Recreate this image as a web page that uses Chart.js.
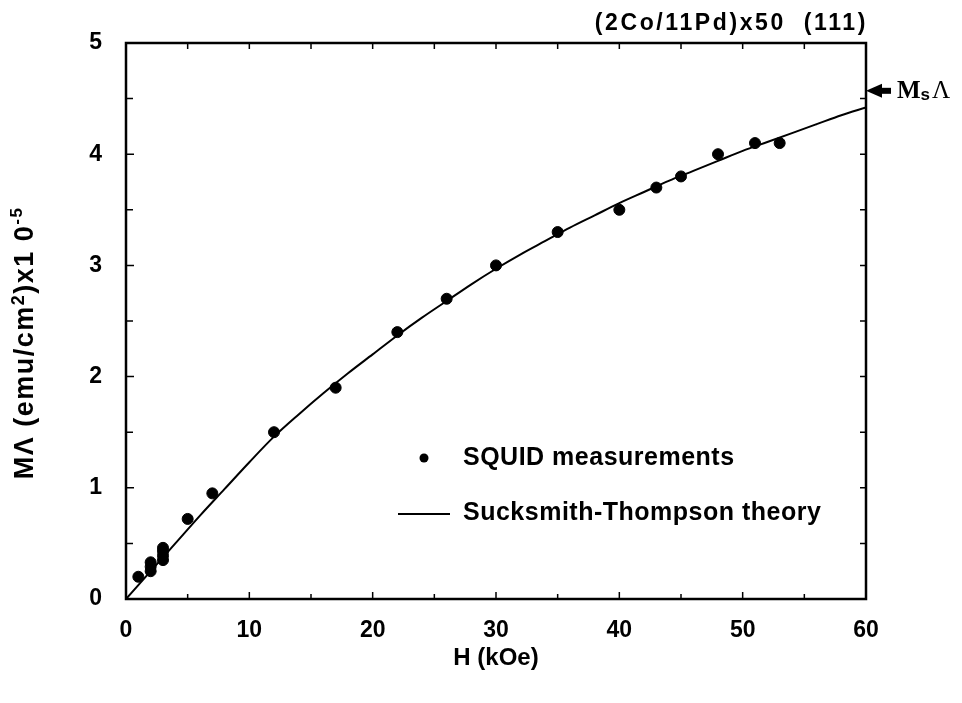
<!DOCTYPE html>
<html><head><meta charset="utf-8">
<script src="https://cdn.jsdelivr.net/npm/chart.js@4"></script>
<style>html,body{margin:0;padding:0;background:#fff}#wrap{width:962px;height:703px}</style>
</head><body><div id="wrap"><canvas id="c" width="962" height="703"></canvas></div>
<script>
const squidH = [1, 2, 2, 2, 3, 3, 3, 3, 5, 7, 12, 17, 22, 26, 30, 35, 40, 43, 45, 48, 51, 53];
const squidM = [0.20, 0.25, 0.29, 0.33, 0.35, 0.39, 0.43, 0.46, 0.72, 0.95, 1.50, 1.90, 2.40, 2.70, 3.00, 3.30, 3.50, 3.70, 3.80, 4.00, 4.10, 4.10];
const theoryH = [0, 2, 4, 6, 8, 10, 12, 14, 16, 18, 20, 22, 24, 26, 28, 30, 32, 34, 36, 38, 40, 42, 44, 46, 48, 50, 52, 54, 56, 58, 60];
const theoryM = [0, 0.25, 0.50, 0.75, 0.99, 1.23, 1.46, 1.66, 1.85, 2.03, 2.20, 2.37, 2.53, 2.68, 2.83, 2.97, 3.10, 3.22, 3.34, 3.45, 3.56, 3.66, 3.76, 3.85, 3.94, 4.03, 4.11, 4.19, 4.27, 4.35, 4.42];
const xTicks = [0, 10, 20, 30, 40, 50, 60];
const yTicks = [0, 1, 2, 3, 4, 5];
const msLambda = 4.57;
const titleText = "(2Co/11Pd)x50  (111)";
const xTitle = "H (kOe)";
const legendLabels = ["SQUID measurements", "Sucksmith-Thompson theory"];

const FONT = "'Liberation Sans', Arial, sans-serif";
const SERIF = "'Liberation Serif', 'Times New Roman', serif";

const deco = {
  id: 'deco',
  afterDraw(chart) {
    const ctx = chart.ctx, a = chart.chartArea;
    const xs = chart.scales.x, ys = chart.scales.y;
    ctx.save();
    ctx.strokeStyle = '#000';
    ctx.lineWidth = 2.5;
    ctx.strokeRect(a.left, a.top, a.right - a.left, a.bottom - a.top);
    ctx.lineWidth = 1.5;
    for (let v = 5; v < 60; v += 5) {
      const px = xs.getPixelForValue(v);
      const major = v % 10 === 0;
      ctx.beginPath();
      ctx.moveTo(px, a.bottom); ctx.lineTo(px, a.bottom - (major ? 7 : 5));
      ctx.moveTo(px, a.top); ctx.lineTo(px, a.top + 6);
      ctx.stroke();
    }
    for (let v = 0.5; v < 5; v += 0.5) {
      const py = ys.getPixelForValue(v);
      const major = Math.abs(v - Math.round(v)) < 1e-6;
      ctx.beginPath();
      ctx.moveTo(a.left, py); ctx.lineTo(a.left + (major ? 8 : 7), py);
      ctx.moveTo(a.right, py); ctx.lineTo(a.right - 6, py);
      ctx.stroke();
    }
    ctx.fillStyle = '#000';
    // top-right title
    ctx.font = "bold 23px " + FONT;
    ctx.letterSpacing = '2.6px';
    ctx.textAlign = 'right'; ctx.textBaseline = 'middle';
    ctx.fillText(titleText, a.right + 2, 24);
    ctx.letterSpacing = '0px';
    // Ms Lambda marker
    const my = ys.getPixelForValue(msLambda);
    ctx.beginPath();
    ctx.moveTo(a.right, my);
    ctx.lineTo(a.right + 16, my - 7);
    ctx.lineTo(a.right + 16, my + 7);
    ctx.closePath(); ctx.fill();
    ctx.fillRect(a.right + 14, my - 3, 11, 6);
    ctx.textAlign = 'left';
    ctx.font = "bold 25px " + SERIF;
    ctx.fillText('M', a.right + 31, my + 1);
    let w = ctx.measureText('M').width;
    ctx.font = "bold 17px " + FONT;
    ctx.fillText('s', a.right + 31 + w, my + 4);
    let w2 = ctx.measureText('s').width;
    ctx.font = "25px " + SERIF;
    ctx.fillText('\u039B', a.right + 33 + w + w2, my + 1);
    // axis titles
    ctx.font = "bold 24px " + FONT;
    ctx.textAlign = 'center';
    ctx.fillText(xTitle, (a.left + a.right) / 2, 658);
    ctx.save();
    ctx.translate(26, 343);
    ctx.rotate(-Math.PI / 2);
    ctx.letterSpacing = '1.5px';
    const parts = [["M\u039B (emu/cm", 27, 0], ["2", 18, -7], [")x1 0", 27, 0], ["-5", 17, -9]];
    let total = 0;
    parts.forEach(p => { ctx.font = "bold " + p[1] + "px " + FONT; total += ctx.measureText(p[0]).width; });
    let cx = -total / 2;
    ctx.textAlign = 'left';
    parts.forEach(p => { ctx.font = "bold " + p[1] + "px " + FONT; ctx.fillText(p[0], cx, p[2]); cx += ctx.measureText(p[0]).width; });
    ctx.letterSpacing = '0px';
    ctx.restore();
    // legend
    ctx.font = "bold 25px " + FONT;
    ctx.letterSpacing = '0.5px';
    ctx.textAlign = 'left';
    ctx.beginPath(); ctx.arc(424, 458, 4.5, 0, Math.PI * 2); ctx.fill();
    ctx.fillText(legendLabels[0], 463, 458);
    ctx.lineWidth = 2;
    ctx.beginPath(); ctx.moveTo(398, 514); ctx.lineTo(450, 514); ctx.stroke();
    ctx.fillText(legendLabels[1], 463, 513);
    ctx.letterSpacing = '0px';
    ctx.restore();
  }
};

new Chart(document.getElementById('c'), {
  type: 'scatter',
  data: {
    datasets: [
      { label: legendLabels[1], data: theoryH.map((h, i) => ({x: h, y: theoryM[i]})), showLine: true, borderColor: '#000', borderWidth: 2, pointRadius: 0, tension: 0.4, cubicInterpolationMode: 'monotone' },
      { label: legendLabels[0], data: squidH.map((h, i) => ({x: h, y: squidM[i]})), backgroundColor: '#000', borderColor: '#000', pointRadius: 5.5, pointHoverRadius: 5.5 }
    ]
  },
  options: {
    responsive: false, animation: false, events: [],
    layout: { padding: { left: 56, right: 96, top: 43, bottom: 0 } },
    plugins: { legend: { display: false }, tooltip: { enabled: false } },
    scales: {
      x: {
        type: 'linear', min: 0, max: 60,
        afterBuildTicks: s => { s.ticks = xTicks.map(v => ({value: v})); },
        afterFit: s => { s.height = 104; },
        grid: { display: false }, border: { display: false },
        ticks: { color: '#000', font: { family: FONT, size: 23, weight: 'bold' }, padding: 10, maxRotation: 0 }
      },
      y: {
        type: 'linear', min: 0, max: 5,
        afterBuildTicks: s => { s.ticks = yTicks.map(v => ({value: v})); },
        afterFit: s => { s.width = 70; },
        grid: { display: false }, border: { display: false },
        ticks: { color: '#000', font: { family: FONT, size: 23, weight: 'bold' }, padding: 16 }
      }
    }
  },
  plugins: [deco]
});
</script></body></html>
